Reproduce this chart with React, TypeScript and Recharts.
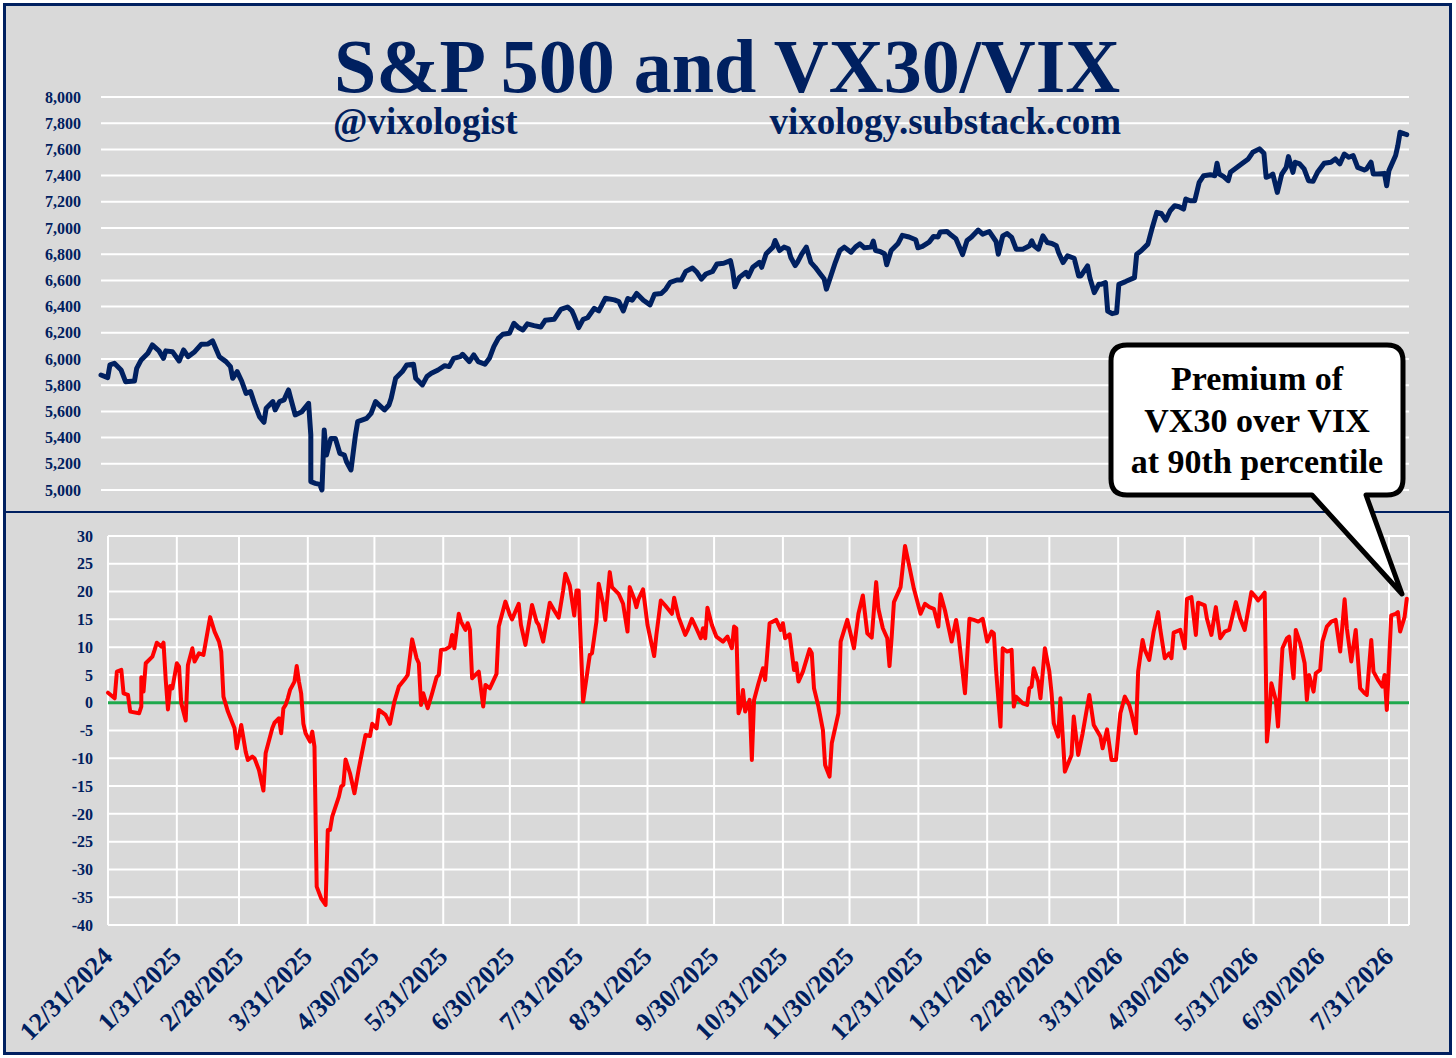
import React from 'react';
import { LineChart, Line, XAxis, YAxis, CartesianGrid, ReferenceLine } from 'recharts';

const NAVY = '#002060';
const BG = '#d9d9d9';
const RED = '#ff0000';
const GREEN = '#1ea84c';
const FONT = "'Liberation Serif', 'Times New Roman', serif";

// x axis: days since 12/31/2024
const xTickLabels = [
  '12/31/2024', '1/31/2025', '2/28/2025', '3/31/2025', '4/30/2025', '5/31/2025',
  '6/30/2025', '7/31/2025', '8/31/2025', '9/30/2025', '10/31/2025', '11/30/2025',
  '12/31/2025', '1/31/2026', '2/28/2026', '3/31/2026', '4/30/2026', '5/31/2026',
  '6/30/2026', '7/31/2026',
];
const spxTicks = [5000, 5200, 5400, 5600, 5800, 6000, 6200, 6400, 6600, 6800, 7000, 7200, 7400, 7600, 7800, 8000];
const premTicks = [-40, -35, -30, -25, -20, -15, -10, -5, 0, 5, 10, 15, 20, 25, 30];

// S&P 500 (day offset, level)
const spxDays = [
  0, 3, 4, 6, 9, 11, 15, 16, 18, 21, 23, 26, 28, 29, 32, 35, 37, 39, 42, 45, 48, 50, 53, 56, 58, 59, 61, 63, 65, 67,
  69, 71, 73, 74, 77, 78, 80, 82, 84, 85, 87, 90, 93, 94, 94, 96, 98, 99, 100, 101, 103, 105, 107, 109, 110, 112, 114, 115, 119, 121,
  123, 127, 129, 130, 132, 135, 137, 140, 141, 144, 146, 148, 151, 154, 156, 158, 161, 162, 165, 167, 169, 172, 174, 176, 178, 180, 183, 185, 187, 189,
  191, 194, 197, 199, 203, 206, 209, 211, 212, 214, 216, 218, 221, 223, 226, 230, 232, 234, 236, 238, 240, 243, 246, 248, 251, 253, 255, 258, 260, 262,
  265, 267, 269, 271, 274, 276, 279, 282, 283, 284, 286, 289, 290, 292, 295, 296, 298, 301, 302, 304, 306, 308, 309, 311, 312, 314, 316, 318, 320, 322,
  324, 325, 327, 329, 331, 333, 336, 338, 340, 342, 345, 346, 347, 349, 351, 352, 354, 357, 359, 362, 365, 366, 368, 371, 373, 375, 376, 379, 381, 383,
  386, 388, 390, 393, 395, 398, 401, 402, 404, 406, 408, 410, 413, 416, 417, 418, 420, 422, 424, 426, 428, 429, 431, 433, 436, 438, 439, 442, 443, 445,
  447, 448, 450, 451, 453, 455, 456, 459, 463, 464, 466, 469, 471, 473, 475, 477, 479, 481, 483, 485, 486, 488, 490, 492, 494, 497, 499, 500, 501, 503,
  505, 506, 509, 512, 514, 516, 519, 521, 522, 524, 525, 527, 529, 531, 532, 534, 535, 537, 539, 541, 543, 545, 548, 551, 553, 555, 557, 559, 561, 563,
  566, 567, 569, 570, 572, 575, 576, 577, 580, 581, 582, 584, 585,
];
const spxValues = [
  5878, 5858, 5955, 5967, 5916, 5827, 5832, 5929, 5993, 6044, 6107, 6062, 6005, 6062, 6056, 5985, 6069, 6018, 6056, 6113, 6115, 6138, 6018, 5980, 5942, 5853, 5904, 5832, 5738, 5751,
  5649, 5560, 5517, 5624, 5675, 5611, 5675, 5688, 5764, 5700, 5573, 5598, 5662, 5420, 5064, 5051, 5043, 5000, 5458, 5267, 5394, 5394, 5280, 5267, 5216, 5153, 5420, 5522, 5547, 5585,
  5675, 5611, 5649, 5700, 5853, 5904, 5955, 5960, 5853, 5802, 5866, 5891, 5916, 5949, 5942, 6005, 6018, 6036, 5980, 6031, 5980, 5960, 6005, 6094, 6158, 6189, 6196, 6273, 6240, 6222,
  6268, 6255, 6244, 6295, 6303, 6379, 6397, 6367, 6328, 6239, 6303, 6315, 6387, 6367, 6464, 6451, 6438, 6367, 6462, 6449, 6500, 6449, 6413, 6495, 6500, 6533, 6585, 6603, 6603, 6669,
  6695, 6662, 6610, 6649, 6669, 6726, 6731, 6751, 6674, 6551, 6623, 6662, 6628, 6700, 6738, 6700, 6803, 6854, 6905, 6828, 6854, 6841, 6777, 6713, 6738, 6803, 6854, 6738, 6700, 6654,
  6610, 6533, 6636, 6738, 6828, 6854, 6815, 6854, 6879, 6849, 6854, 6900, 6828, 6821, 6803, 6720, 6828, 6879, 6944, 6931, 6910, 6849, 6859, 6892, 6936, 6931, 6969, 6974, 6944, 6918,
  6797, 6905, 6931, 6984, 6953, 6973, 6897, 6800, 6940, 6958, 6928, 6838, 6838, 6864, 6902, 6864, 6838, 6940, 6889, 6882, 6864, 6813, 6736, 6787, 6769, 6634, 6634, 6711, 6621, 6507,
  6570, 6570, 6583, 6366, 6346, 6354, 6570, 6591, 6621, 6800, 6826, 6877, 7004, 7119, 7111, 7060, 7132, 7170, 7162, 7144, 7221, 7208, 7208, 7348, 7399, 7407, 7399, 7494, 7412, 7392,
  7361, 7425, 7463, 7502, 7527, 7578, 7604, 7570, 7387, 7399, 7412, 7272, 7412, 7463, 7545, 7425, 7502, 7489, 7451, 7361, 7356, 7425, 7494, 7502, 7527, 7489, 7565, 7540, 7553, 7463,
  7443, 7451, 7502, 7412, 7412, 7417, 7323, 7438, 7553, 7629, 7731, 7718, 7713,
];

// Premium of VX30 over VIX (day offset, percent)
const premDays = [
  0, 3, 4, 6, 7, 9, 10, 14, 15, 15, 16, 17, 20, 21, 22, 24, 25, 26, 27, 28, 29, 31, 32, 33, 35, 36, 38, 39, 41, 43,
  46, 48, 50, 51, 52, 54, 57, 58, 60, 62, 63, 65, 66, 68, 70, 71, 74, 75, 77, 78, 79, 80, 81, 82, 84, 85, 86, 87, 88, 89,
  91, 92, 93, 94, 96, 98, 99, 100, 101, 104, 105, 106, 107, 109, 111, 113, 116, 118, 119, 121, 122, 125, 127, 129, 131, 134, 135, 137, 139, 140,
  141, 142, 144, 146, 148, 149, 150, 152, 154, 155, 156, 158, 159, 161, 162, 163, 164, 167, 169, 170, 172, 175, 176, 179, 181, 182, 185, 186, 188, 191,
  193, 194, 196, 199, 201, 203, 205, 206, 208, 210, 211, 212, 214, 217, 218, 220, 221, 223, 224, 226, 227, 230, 232, 234, 235, 237, 238, 239, 241, 243,
  246, 247, 249, 251, 254, 255, 257, 260, 261, 263, 265, 267, 268, 269, 270, 272, 274, 277, 279, 281, 282, 283, 284, 285, 286, 287, 289, 290, 291, 293,
  295, 296, 298, 301, 303, 304, 305, 307, 309, 310, 311, 313, 316, 317, 318, 320, 322, 323, 325, 326, 329, 330, 333, 336, 338, 340, 342, 344, 346, 347,
  349, 351, 352, 353, 354, 357, 359, 361, 363, 366, 368, 370, 372, 374, 375, 377, 380, 382, 383, 385, 386, 388, 390, 392, 394, 396, 398, 399, 400, 402,
  403, 405, 407, 408, 409, 412, 414, 415, 416, 417, 419, 420, 422, 424, 425, 426, 428, 429, 430, 431, 434, 435, 437, 439, 442, 444, 447, 448, 450, 452,
  454, 456, 458, 460, 461, 463, 464, 466, 467, 469, 471, 473, 474, 476, 478, 479, 480, 483, 485, 486, 488, 490, 491, 494, 495, 497, 499, 501, 503, 505,
  508, 510, 512, 515, 517, 518, 520, 521, 522, 523, 524, 526, 527, 529, 531, 532, 534, 535, 537, 539, 540, 541, 543, 544, 546, 547, 549, 551, 553, 555,
  557, 558, 560, 562, 564, 566, 567, 569, 570, 572, 574, 575, 576, 578, 580, 581, 582, 584, 585,
];
const premValues = [
  1.8, 0.8, 5.6, 5.9, 1.7, 1.4, -1.6, -1.9, -0.7, 4.6, 2.0, 7.1, 8.3, 9.5, 10.8, 10.1, 10.8, 4.1, -1.2, 3.0, 2.6, 7.1, 6.5, -0.1, -3.2, 6.8, 9.8, 7.4, 8.9, 8.6,
  15.4, 12.8, 11.0, 9.2, 1.1, -1.6, -4.6, -8.2, -4.0, -8.8, -10.3, -9.7, -10.0, -12.1, -15.8, -9.1, -4.6, -3.6, -2.8, -5.5, -1.0, -0.4, 0.8, 2.3, 3.8, 6.6, 3.8, 1.7, -3.8, -5.5,
  -7.0, -5.2, -7.9, -33.1, -35.2, -36.4, -22.9, -22.9, -20.5, -16.9, -15.1, -14.8, -10.2, -12.7, -16.3, -11.8, -5.8, -6.0, -3.8, -4.6, -1.3, -2.2, -3.8, 0.2, 2.9, 4.4, 5.0, 11.4, 8.0, 7.1,
  -0.4, 1.7, -1.0, 1.7, 4.6, 5.0, 9.5, 9.6, 10.1, 12.2, 9.8, 16.0, 14.6, 13.1, 14.3, 13.1, 4.4, 5.6, -0.7, 3.2, 2.6, 5.2, 13.7, 18.2, 15.8, 15.0, 17.8, 14.0, 10.4, 17.6,
  14.6, 14.0, 11.0, 18.0, 16.6, 15.3, 20.2, 23.2, 21.1, 15.7, 20.2, 20.2, 0.2, 8.6, 8.9, 14.6, 21.4, 17.8, 14.9, 23.5, 20.8, 19.6, 17.8, 12.8, 20.8, 18.7, 17.2, 18.7, 20.4, 14.0,
  8.4, 12.2, 18.4, 17.5, 16.0, 18.9, 15.4, 12.2, 13.0, 15.1, 13.4, 11.6, 13.4, 11.6, 17.1, 14.0, 11.9, 11.0, 11.9, 9.8, 13.7, 13.4, -1.9, -0.7, 2.3, -1.6, 0.5, -10.3, 0.5, 3.5,
  6.2, 4.1, 14.3, 14.9, 13.1, 14.3, 11.6, 12.3, 5.9, 7.1, 3.8, 5.6, 9.6, 8.9, 2.6, -0.7, -4.9, -11.2, -13.3, -7.3, -1.9, 11.0, 14.9, 9.8, 16.0, 19.3, 12.5, 11.7, 21.7, 16.9,
  13.4, 11.6, 6.6, 11.9, 18.1, 20.8, 28.2, 24.4, 20.5, 16.0, 17.8, 17.2, 16.9, 13.7, 19.5, 16.6, 11.0, 14.9, 12.5, 5.3, 1.7, 15.1, 14.9, 14.6, 15.1, 11.0, 12.8, 12.5, 5.9, -4.3,
  9.8, 9.2, 9.5, -0.7, 1.1, -0.1, -0.4, 2.6, 2.9, 6.2, 3.8, 0.8, 9.8, 5.6, 1.7, -3.7, -6.1, 0.8, -5.8, -12.4, -9.4, -2.5, -9.4, -5.5, 1.4, -4.0, -6.1, -8.2, -4.8, -10.3,
  -10.3, -1.9, 1.1, -0.4, -1.9, -5.5, 5.6, 11.3, 9.5, 7.7, 12.8, 16.3, 13.1, 8.0, 8.9, 8.0, 12.6, 13.1, 9.8, 18.7, 19.0, 12.2, 18.0, 17.5, 15.1, 12.2, 17.2, 11.6, 12.8, 13.1,
  18.1, 15.1, 13.1, 19.9, 19.0, 18.4, 19.3, 19.8, -7.0, -2.8, 3.5, 0.5, -4.3, 9.8, 11.6, 11.9, 4.4, 13.1, 10.7, 7.1, 0.5, 5.0, 2.0, 5.3, 5.9, 11.0, 13.7, 14.6, 14.9, 9.2,
  18.6, 13.4, 7.4, 13.1, 2.6, 1.7, 1.4, 11.3, 5.6, 4.1, 2.9, 5.0, -1.3, 15.7, 16.0, 16.3, 12.8, 15.4, 18.7,
];

const BASE = Date.UTC(2024, 11, 31);
const toDay = (s: string) => {
  const [m, d, y] = s.split('/').map(Number);
  return Math.round((Date.UTC(y, m - 1, d) - BASE) / 86400000);
};
const xTicks = xTickLabels.map(toDay);
const labelByDay = new Map<number, string>(xTicks.map((d, i) => [d, xTickLabels[i]] as [number, string]));
const X_DOMAIN: [number, number] = [0, 586];

const spxData = spxDays.map((d, i) => ({ d, v: spxValues[i] }));
const premData = premDays.map((d, i) => ({ d, v: premValues[i] }));

const yTickStyle = { fill: NAVY, fontSize: 16, fontWeight: 700, fontFamily: FONT };

const DateTick = (props: any) => {
  const { x, y, payload } = props;
  const ax = x + 6;
  const ay = y + 33;
  return (
    <text
      x={ax}
      y={ay}
      transform={`rotate(-45, ${ax}, ${ay})`}
      textAnchor="end"
      fill={NAVY}
      fontSize={26}
      fontWeight={700}
      fontFamily={FONT}
    >
      {labelByDay.get(payload.value)}
    </text>
  );
};

export default function App() {
  return (
    <div style={{ position: 'absolute', left: 0, top: 0, width: 1456, height: 1058, background: '#ffffff', overflow: 'hidden' }}>
      <div
        style={{
          position: 'absolute', left: 3, top: 3, width: 1449, height: 1052,
          border: `3px solid ${NAVY}`, boxSizing: 'border-box', background: BG,
        }}
      />
      <div style={{ position: 'absolute', left: 3, top: 511, width: 1449, height: 2, background: NAVY }} />

      <div style={{ position: 'absolute', left: 0, top: 0 }}>
        <LineChart width={1456} height={513} data={spxData} margin={{ top: 97, right: 47, bottom: 23, left: 0 }}>
          <CartesianGrid vertical={false} stroke="#ffffff" strokeWidth={2} />
          <XAxis dataKey="d" type="number" domain={X_DOMAIN} hide />
          <YAxis
            type="number"
            domain={[5000, 8000]}
            ticks={spxTicks}
            interval={0}
            width={101}
            axisLine={false}
            tickLine={false}
            tickSize={0}
            tickMargin={20}
            tick={yTickStyle}
            tickFormatter={(v: number) => v.toLocaleString('en-US')}
          />
          <Line
            dataKey="v"
            stroke={NAVY}
            strokeWidth={5}
            dot={false}
            isAnimationActive={false}
            strokeLinejoin="round"
            strokeLinecap="round"
          />
        </LineChart>
      </div>

      <div style={{ position: 'absolute', left: 0, top: 513 }}>
        <LineChart width={1456} height={545} data={premData} margin={{ top: 23, right: 47, bottom: 0, left: 0 }}>
          <CartesianGrid stroke="#ffffff" strokeWidth={2} />
          <XAxis
            dataKey="d"
            type="number"
            domain={X_DOMAIN}
            ticks={xTicks}
            interval={0}
            height={133}
            axisLine={false}
            tickLine={false}
            tickSize={0}
            tickMargin={0}
            tick={<DateTick />}
          />
          <YAxis
            type="number"
            domain={[-40, 30]}
            ticks={premTicks}
            interval={0}
            width={108}
            axisLine={false}
            tickLine={false}
            tickSize={0}
            tickMargin={15}
            tick={yTickStyle}
          />
          <ReferenceLine y={0} stroke={GREEN} strokeWidth={3} />
          <Line
            dataKey="v"
            stroke={RED}
            strokeWidth={4}
            dot={false}
            isAnimationActive={false}
            strokeLinejoin="round"
            strokeLinecap="round"
          />
        </LineChart>
      </div>

      <svg
        width={1456}
        height={1058}
        style={{ position: 'absolute', left: 0, top: 0, pointerEvents: 'none' }}
      >
        <text x={727} y={92} textAnchor="middle" fill={NAVY} fontSize={76} fontWeight={700} fontFamily={FONT}>
          S&amp;P 500 and VX30/VIX
        </text>
        <text x={333} y={134} textAnchor="start" fill={NAVY} fontSize={37} fontWeight={700} fontFamily={FONT}>
          @vixologist
        </text>
        <text x={1121} y={134} textAnchor="end" fill={NAVY} fontSize={37} fontWeight={700} fontFamily={FONT}>
          vixology.substack.com
        </text>
        <path
          d="M 1127 345 H 1387 Q 1403 345 1403 361 V 479 Q 1403 495 1387 495 H 1366 L 1402 594 L 1312 495 H 1127 Q 1111 495 1111 479 V 361 Q 1111 345 1127 345 Z"
          fill="#ffffff"
          stroke="#000000"
          strokeWidth={5}
          strokeLinejoin="round"
        />
        <g fill="#000000" fontSize={34} fontWeight={700} fontFamily={FONT} textAnchor="middle">
          <text x={1257} y={390}>Premium of</text>
          <text x={1257} y={432}>VX30 over VIX</text>
          <text x={1257} y={473}>at 90th percentile</text>
        </g>
      </svg>
    </div>
  );
}
